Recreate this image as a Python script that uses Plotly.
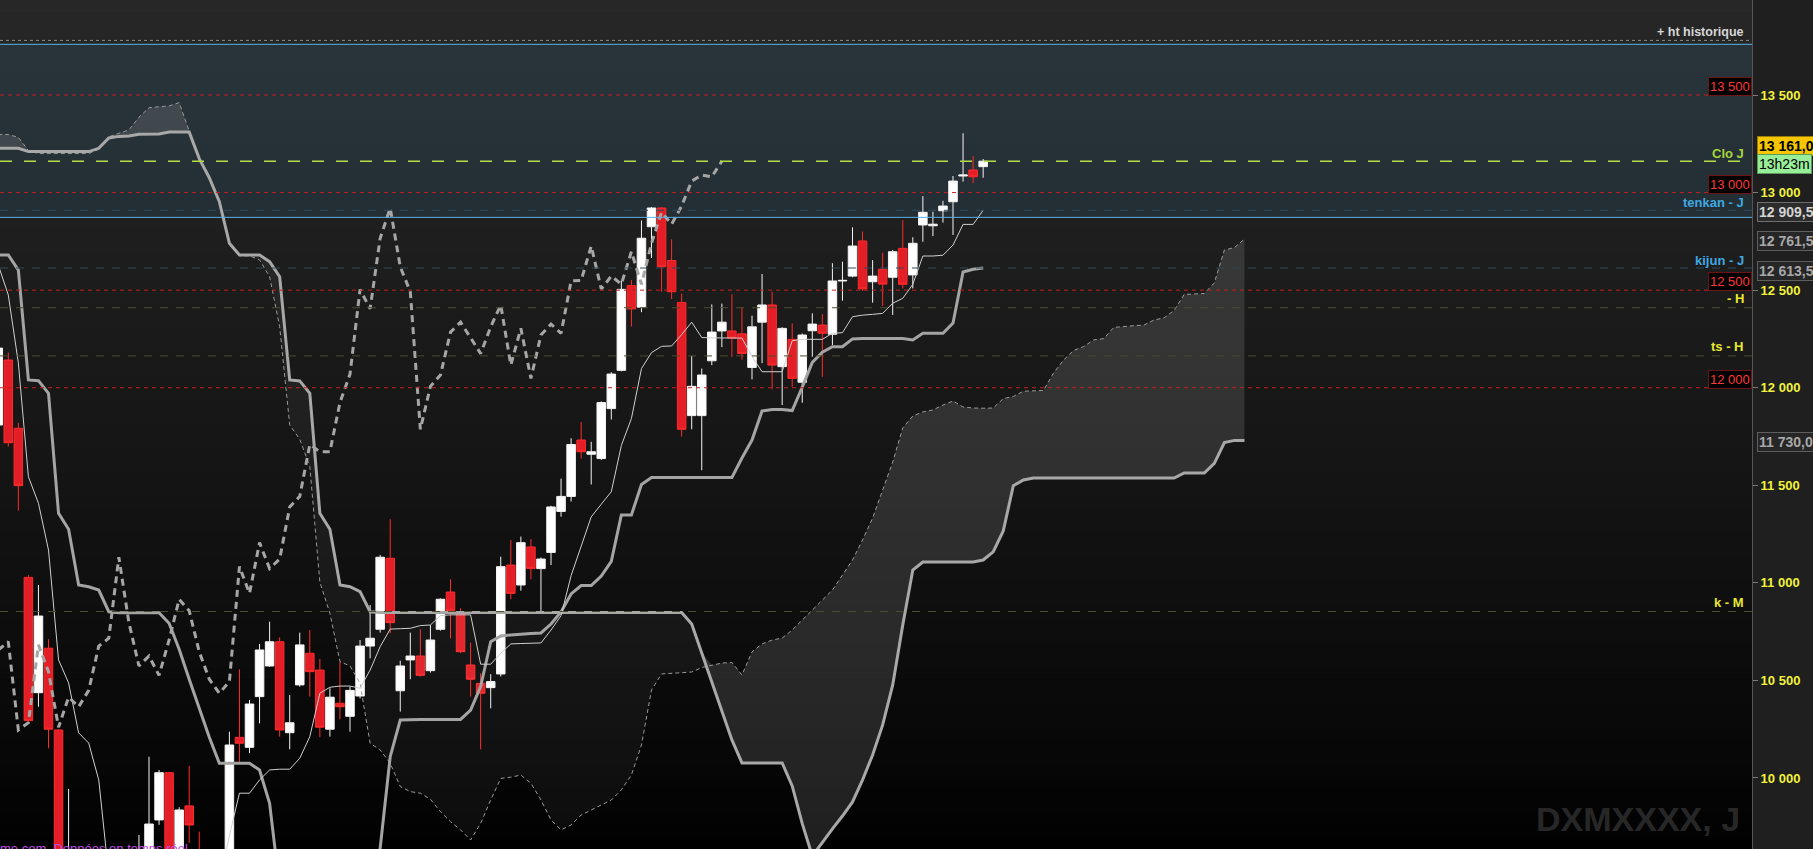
import plotly.graph_objects as go

# ---------------- data ----------------
bar_index = list(range(-1, 98))
opens = [11809, 12142, 11792, 11028, 10437, 10665, 10246, 9300, 9600, 9100, 8600, 8200, 8500, 8800, 9300,
         9500, 9785, 10027, 9550, 9857, 9633, 9450, 9300, 9500, 10208, 10157, 10417, 10574, 10698, 10232,
         10477, 10639, 10553, 10250, 10383, 10316, 10420, 10676, 10762, 11126, 10447, 10605, 10625, 10550,
         10762, 10953, 10844, 10579, 10485, 10463, 10533, 11091, 10989, 11184, 11073, 11156, 11366, 11443,
         11732, 11659, 11637, 11893, 12089, 12523, 12413, 12825, 12921, 12652, 12437, 11857, 11857, 12138,
         12291, 12291, 12276, 12104, 12336, 12424, 12108, 12248, 12028, 12292, 12321, 12274, 12547, 12572,
         12752, 12543, 12607, 12566, 12714, 12578, 12834, 12830, 12907, 12953, 13085, 13116, 13133]
highs = [12230, 12180, 11820, 11040, 10989, 10711, 10250, 9944, 9620, 9200, 8700, 8700, 9000, 9450, 9708,
         10109, 10041, 10030, 9850, 10062, 9725, 9550, 9600, 10237, 10557, 10400, 10687, 10801, 10721, 10425,
         10745, 10758, 10610, 10460, 10596, 10468, 10707, 10887, 11143, 11326, 10601, 10745, 10762, 10784,
         10920, 11018, 10870, 10694, 10537, 10532, 11134, 11220, 11237, 11225, 11130, 11395, 11534, 11741,
         11824, 11723, 11930, 12080, 12547, 12552, 12857, 12925, 12925, 12761, 12482, 12163, 12098, 12427,
         12431, 12479, 12413, 12369, 12583, 12492, 12310, 12330, 12278, 12381, 12378, 12638, 12646, 12822,
         12800, 12654, 12692, 12706, 12859, 12771, 12982, 12902, 12958, 13085, 13304, 13187, 13172]
lows = [11780, 11698, 11370, 10285, 10365, 10152, 9400, 9200, 9000, 8400, 8000, 7900, 8300, 8700, 9200,
        9400, 9760, 9500, 9500, 9667, 9400, 9100, 9200, 9450, 10075, 10127, 10280, 10570, 10212, 10147,
        10468, 10417, 10209, 10212, 10301, 10237, 10408, 10613, 10745, 10742, 10340, 10506, 10520, 10540,
        10755, 10716, 10640, 10417, 10147, 10357, 10520, 10916, 10960, 11018, 10854, 11091, 11339, 11417,
        11637, 11504, 11630, 11837, 12084, 12314, 12387, 12665, 12492, 12455, 11750, 11787, 11577, 12116,
        12208, 12157, 12144, 12043, 12126, 11992, 11911, 12005, 11923, 12159, 12056, 12219, 12446, 12566,
        12497, 12436, 12419, 12373, 12509, 12509, 12748, 12777, 12846, 12783, 13056, 13048, 13076]
closes = [12203, 11718, 11498, 10294, 10830, 10250, 9450, 9600, 9100, 8600, 8200, 8500, 8800, 9300, 9600,
          9764, 10027, 9550, 9836, 9759, 9450, 9300, 9500, 10169, 10178, 10379, 10656, 10698, 10246, 10283,
          10682, 10545, 10260, 10414, 10365, 10449, 10676, 10716, 11131, 10796, 10574, 10625, 10526, 10707,
          10916, 10857, 10647, 10506, 10434, 10494, 11083, 10946, 11206, 11073, 11122, 11389, 11443, 11709,
          11672, 11672, 11924, 12070, 12504, 12404, 12766, 12921, 12620, 12492, 11787, 12007, 12065, 12285,
          12336, 12254, 12175, 12312, 12424, 12116, 12304, 12048, 12270, 12326, 12279, 12547, 12550, 12726,
          12506, 12572, 12531, 12697, 12530, 12740, 12899, 12838, 12931, 13059, 13090, 13081, 13161]

tenkan = [12629, 12475, 12127, 11544, 11408, 11168, 10605, 10487, 10231, 10179, 9990, 9500, 9300, 9200,
          9200, 9200, 9300, 9350, 9350, 9400, 9400, 9400, 9450, 9705, 9922, 9922, 9990, 10041, 10045, 10045,
          10101, 10212, 10434, 10465, 10471, 10471, 10460, 10553, 10673, 10763, 10765, 10767, 10781, 10784,
          10832, 10836, 10836, 10836, 10583, 10583, 10639, 10687, 10689, 10689, 10692, 10758, 10832, 11037,
          11192, 11338, 11403, 11467, 11704, 11842, 12098, 12180, 12212, 12214, 12272, 12336, 12257, 12255,
          12255, 12255, 12254, 12160, 12082, 12082, 12082, 12241, 12248, 12248, 12248, 12279, 12282, 12364,
          12372, 12376, 12381, 12433, 12458, 12530, 12675, 12675, 12679, 12731, 12837, 12837, 12909.5]
kijun = [12680, 12680, 12603, 12040, 12036, 11971, 11356, 11275, 10989, 10980, 10963, 10852, 10847, 10847,
         10847, 10847, 10847, 10793, 10660, 10506, 10357, 10209, 10075, 10075, 10075, 10075, 10041, 9870,
         9437, 9437, 9437, 9437, 9437, 9437, 9437, 9437, 9437, 9437, 9640, 10109, 10297, 10300, 10300,
         10300, 10300, 10300, 10300, 10348, 10468, 10698, 10728, 10733, 10738, 10741, 10743, 10789, 10851,
         10943, 10986, 10986, 11035, 11110, 11348, 11348, 11504, 11540, 11540, 11540, 11540, 11540, 11540,
         11540, 11540, 11540, 11640, 11732, 11881, 11888, 11888, 11883, 12003, 12130, 12182, 12210, 12210,
         12250, 12252, 12252, 12252, 12252, 12252, 12245, 12279, 12279, 12279, 12332, 12593, 12607, 12613.5]

cloud_index = list(range(-1, 124))
senkou_a = [13298, 13298, 13283, 13215, 13200, 13200, 13200, 13200, 13200, 13200, 13222, 13286, 13304,
            13321, 13386, 13435, 13440, 13444, 13461, 13318, 13170, 13070, 12948, 12735, 12676, 12676, 12655,
            12569, 12313, 11809, 11736, 11596, 11004, 10844, 10596, 10574, 10485, 10178, 10144, 10075, 9956,
            9930, 9922, 9891, 9827, 9776, 9734, 9682, 9768, 9887, 9998, 10004, 10015, 9973, 9887, 9785, 9734,
            9759, 9810, 9836, 9862, 9887, 9939, 10015, 10169, 10451, 10533, 10536, 10538, 10543, 10566, 10579,
            10589, 10592, 10528, 10646, 10687, 10707, 10717, 10758, 10810, 10861, 10912, 10963, 11040, 11117,
            11220, 11332, 11476, 11619, 11794, 11855, 11876, 11886, 11911, 11932, 11901, 11896, 11895, 11896,
            11944, 11955, 11982, 11984, 11986, 12075, 12142, 12191, 12211, 12245, 12252, 12309, 12315, 12318,
            12321, 12347, 12358, 12396, 12478, 12480, 12483, 12537, 12706, 12718, 12761.5]
senkou_b = [13227, 13227, 13227, 13210, 13210, 13210, 13210, 13210, 13210, 13210, 13227, 13280, 13288,
            13290, 13299, 13300, 13300, 13310, 13310, 13310, 13174, 13076, 12953, 12740, 12680, 12680, 12680,
            12646, 12569, 12040, 12035, 11971, 11356, 11275, 10989, 10980, 10955, 10852, 10848, 10848, 10848,
            10848, 10848, 10848, 10848, 10848, 10848, 10848, 10848, 10848, 10848, 10848, 10848, 10848, 10848,
            10848, 10848, 10848, 10848, 10848, 10848, 10848, 10848, 10848, 10848, 10848, 10848, 10848, 10848,
            10789, 10643, 10497, 10351, 10195, 10077, 10077, 10077, 10077, 10077, 9959, 9766, 9600, 9672, 9739,
            9805, 9877, 9990, 10118, 10272, 10477, 10784, 11066, 11107, 11107, 11107, 11107, 11107, 11107,
            11117, 11159, 11266, 11498, 11527, 11537, 11537, 11537, 11537, 11537, 11537, 11537, 11537, 11537,
            11537, 11537, 11537, 11537, 11537, 11537, 11563, 11563, 11563, 11612, 11719, 11730, 11730]
chikou_shift = 26

tick_values = [10000, 10500, 11000, 11500, 12000, 12500, 13000, 13500]
tick_labels = ["10 000", "10 500", "11 000", "11 500", "12 000", "12 500", "13 000", "13 500"]

ht_historique = 13780
zone_top = 13760
zone_bottom = 12873
round_levels = [13500, 13000, 12500, 12000]
round_labels = ["13 500", "13 000", "12 500", "12 000"]
h_level = 12410
ts_h_level = 12163
k_m_level = 10853
tenkan_j = 12909.5
kijun_j = 12613.5
ssa_last = 12761.5
ssb_last = 11730.0
last_close = 13161
timer_text = "13h23m"

assert len(opens) == len(highs) == len(lows) == len(closes) == len(bar_index) == len(tenkan) == len(kijun)
assert len(senkou_a) == len(senkou_b) == len(cloud_index)

FONT = "Liberation Sans, Arial, sans-serif"

# ---------------- figure ----------------
fig = go.Figure()
cloud_top = [max(a, b) for a, b in zip(senkou_a, senkou_b)]

fig.add_trace(go.Scatter(x=cloud_index, y=senkou_b, mode="lines", line=dict(width=0),
                         hoverinfo="skip", showlegend=False))
fig.add_trace(go.Scatter(x=cloud_index, y=cloud_top, mode="lines", line=dict(width=0), fill="tonexty",
                         fillcolor="rgba(210,210,210,0.15)", hoverinfo="skip", showlegend=False))
fig.add_trace(go.Scatter(x=cloud_index, y=senkou_a, mode="lines", line=dict(width=0),
                         hoverinfo="skip", showlegend=False))
fig.add_trace(go.Scatter(x=cloud_index, y=cloud_top, mode="lines", line=dict(width=0), fill="tonexty",
                         fillcolor="rgba(210,210,210,0.05)", hoverinfo="skip", showlegend=False))

fig.add_trace(go.Candlestick(
    x=bar_index, open=opens, high=highs, low=lows, close=closes,
    increasing=dict(line=dict(color="#f4f4f4", width=1), fillcolor="#ffffff"),
    decreasing=dict(line=dict(color="#ff2b2b", width=1), fillcolor="#e41e26"),
    whiskerwidth=0, showlegend=False, hoverinfo="skip"))

fig.add_trace(go.Scatter(x=cloud_index, y=senkou_a, mode="lines",
                         line=dict(color="#9a9a9a", width=1, dash="4px,3px"),
                         hoverinfo="skip", showlegend=False))
fig.add_trace(go.Scatter(x=cloud_index, y=senkou_b, mode="lines",
                         line=dict(color="#a8a8a8", width=3),
                         hoverinfo="skip", showlegend=False))
fig.add_trace(go.Scatter(x=bar_index, y=kijun, mode="lines",
                         line=dict(color="#a4a4a4", width=3),
                         hoverinfo="skip", showlegend=False))
fig.add_trace(go.Scatter(x=bar_index, y=tenkan, mode="lines",
                         line=dict(color="#cfcfcf", width=1),
                         hoverinfo="skip", showlegend=False))
chikou_x = [i - chikou_shift for i in bar_index[chikou_shift:]]
chikou_y = closes[chikou_shift:]
fig.add_trace(go.Scatter(x=chikou_x, y=chikou_y, mode="lines",
                         line=dict(color="#a6a6a6", width=3, dash="7px,5px"),
                         hoverinfo="skip", showlegend=False))

# ---------------- background + level lines ----------------
shapes = []
n_bands = 70
for k in range(n_bands):
    t = (k + 0.5) / n_bands
    c = int(round(39 * (1 - t) ** 0.8))
    shapes.append(dict(type="rect", xref="paper", yref="paper", x0=0, x1=1,
                       y0=max(0, 1 - (k + 1) / n_bands - 0.002), y1=1 - k / n_bands,
                       fillcolor=f"rgb({c},{c},{c})", line=dict(width=0), layer="below"))
shapes.append(dict(type="rect", xref="paper", yref="y", x0=0, x1=1, y0=zone_bottom, y1=zone_top,
                   fillcolor="rgba(60,112,145,0.2)", line=dict(width=0), layer="below"))


def hline(y, color, width=1, dash="solid"):
    shapes.append(dict(type="line", xref="paper", yref="y", x0=0, x1=1, y0=y, y1=y,
                       line=dict(color=color, width=width, dash=dash), layer="above"))


hline(ht_historique, "#8c8c8c", 1, "3px,3px")
hline(zone_top, "#58b4e8", 1)
hline(zone_bottom, "#58b4e8", 1)
for lv in round_levels:
    hline(lv, "#c41f1f", 1, "4px,4px")
hline(last_close, "#b2de44", 1.6, "12px,12px")
hline(tenkan_j, "#2f4b5d", 1, "8px,8px")
hline(kijun_j, "#2f4b5d", 1, "8px,8px")
hline(h_level, "#4e4e2a", 1, "8px,8px")
hline(ts_h_level, "#4e4e2a", 1, "8px,8px")
hline(k_m_level, "#4e4e2a", 1, "8px,8px")

# ---------------- annotations ----------------
ann = []


def label(text, y, color, yshift=-1, size=13, bold=True):
    ann.append(dict(text=text, xref="paper", yref="y", x=1, y=y, xanchor="right", yanchor="bottom",
                    xshift=-6, yshift=yshift, showarrow=False,
                    font=dict(family=FONT, size=size, color=color, weight="bold" if bold else "normal")))


label("+ ht historique", ht_historique, "#d6d6d6", yshift=-1, size=12.5)
label("Clo J", last_close, "#a6d63a", yshift=-2)
label("tenkan - J", tenkan_j, "#3ea8e0", yshift=-2)
label("kijun - J", kijun_j, "#3ea8e0", yshift=-2)
label("- H", h_level, "#e8e832", yshift=0)
label("ts - H", ts_h_level, "#e8e832", yshift=0)
label("k - M", k_m_level, "#e8e832", yshift=0)

for lv, txt in zip(round_levels, round_labels):
    ann.append(dict(text=txt, xref="paper", yref="y", x=1, y=lv, xanchor="right", yanchor="bottom",
                    xshift=0, yshift=-1, showarrow=False, bgcolor="#000000", bordercolor="#6e1414",
                    borderwidth=1, borderpad=1,
                    font=dict(family=FONT, size=13, color="#ff3838")))


def axis_box(text, y, yshift, bg, fg, border, bold=True):
    ann.append(dict(text=text, xref="paper", yref="y", x=1, y=y, xanchor="left", yanchor="middle",
                    xshift=5, yshift=yshift, showarrow=False, bgcolor=bg, bordercolor=border,
                    borderwidth=1, borderpad=1,
                    font=dict(family=FONT, size=14, color=fg, weight="bold" if bold else "normal")))


axis_box("13 161,00", last_close, 15, "#f6c600", "#000000", "#9a7a00")
axis_box(timer_text, last_close, -3, "#98ee98", "#000000", "#5a9a5a", bold=False)
axis_box("12 909,50", tenkan_j, -1.5, "#2c2c2c", "#d4d4d4", "#6e6e6e")
axis_box("12 761,50", ssa_last, -1.5, "#262626", "#a8a8a8", "#5e5e5e")
axis_box("12 613,50", kijun_j, -2.5, "#262626", "#a8a8a8", "#5e5e5e")
axis_box("11 730,00", ssb_last, -2, "#262626", "#a8a8a8", "#5e5e5e")

ann.append(dict(text="14 000", xref="paper", yref="y", x=1, y=14000, xanchor="left", yanchor="middle",
                xshift=8, showarrow=False, font=dict(family=FONT, size=13, color="#f2f23c", weight="bold")))
ann.append(dict(text="DXMXXXX, J", xref="paper", yref="paper", x=1, y=0, xanchor="right", yanchor="bottom",
                xshift=-10, yshift=9, showarrow=False,
                font=dict(family=FONT, size=34, color="#272727", weight="bold")))
ann.append(dict(text="me.com  Données en temps réel", xref="paper", yref="paper", x=0, y=0,
                xanchor="left", yanchor="middle", xshift=-2, yshift=1, showarrow=False,
                font=dict(family=FONT, size=13, color="#c24fe6")))

fig.update_layout(
    width=1813, height=849,
    margin=dict(l=0, r=61, t=0, b=0, pad=0),
    paper_bgcolor="#1f1f1f", plot_bgcolor="#000000",
    showlegend=False, hovermode=False,
    boxgap=0.15, boxgroupgap=0,
    shapes=shapes, annotations=ann,
    xaxis=dict(range=[-0.826, 173.5], showgrid=False, zeroline=False, showticklabels=False,
               rangeslider=dict(visible=False), showline=True, linecolor="#555555", mirror=True,
               fixedrange=True),
    yaxis=dict(range=[9636, 13987], side="right", showgrid=False, zeroline=False,
               tickvals=tick_values, ticktext=tick_labels, ticks="outside", ticklen=5,
               tickcolor="#7a7a7a", showline=True, linecolor="#555555", mirror=True,
               tickfont=dict(family=FONT, size=13, color="#f2f23c", weight="bold"),
               fixedrange=True),
)

fig.write_html("out.html", config={"displayModeBar": False},
               post_script="document.body.style.margin='0';document.body.style.overflow='hidden';")
